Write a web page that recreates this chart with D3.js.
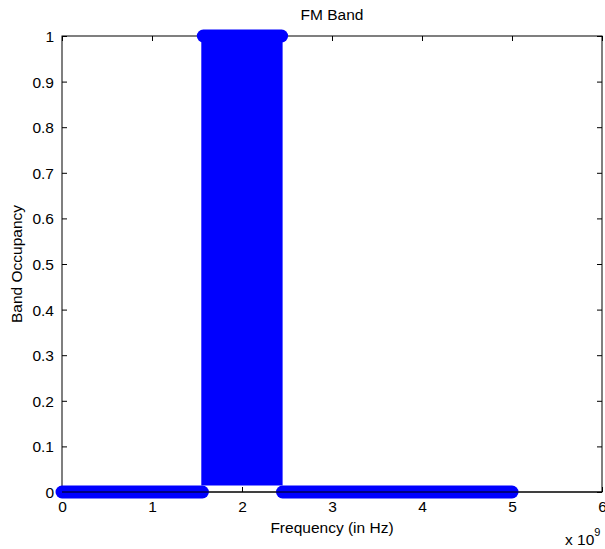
<!DOCTYPE html>
<html><head><meta charset="utf-8">
<script src="https://cdn.jsdelivr.net/npm/d3@7"></script>
<style>body{margin:0;background:#fff}svg text{font-family:"Liberation Sans",Arial,sans-serif;fill:#000}</style>
</head><body><svg id="c" width="605" height="549"></svg>
<script>
const segStart = [0, 1.57e9, 2.45e9];
const segEnd   = [1.56e9, 2.44e9, 5.0e9];
const segValue = [0, 1, 0];
const xTicks = [0, 1, 2, 3, 4, 5, 6];            // x 10^9
const yTicks = [0, 0.1, 0.2, 0.3, 0.4, 0.5, 0.6, 0.7, 0.8, 0.9, 1];
const titleText = "FM Band", xLabel = "Frequency (in Hz)", yLabel = "Band Occupancy";

const svg = d3.select("#c");
const L = 62, R = 602, T = 36, B = 492;
const x = d3.scaleLinear().domain([0, 6e9]).range([L, R]);
const y = d3.scaleLinear().domain([0, 1]).range([B, T]);
const blue = "#0000ff", mr = 6.5, fs = "15.5px";

// axes box
svg.append("rect").attr("x", L).attr("y", T).attr("width", R - L).attr("height", B - T)
  .attr("fill", "none").attr("stroke", "#000").attr("stroke-width", 1);

const tl = 5;
const gx = svg.append("g").attr("transform", `translate(0,${B})`)
  .call(d3.axisBottom(x).tickValues(xTicks.map(d => d * 1e9)).tickSizeInner(-tl).tickSizeOuter(0).tickPadding(9).tickFormat((d, i) => xTicks[i]));
const gxt = svg.append("g").attr("transform", `translate(0,${T})`)
  .call(d3.axisTop(x).tickValues(xTicks.map(d => d * 1e9)).tickSizeInner(-tl).tickSizeOuter(0).tickFormat(""));
const gy = svg.append("g").attr("transform", `translate(${L},0)`)
  .call(d3.axisLeft(y).tickValues(yTicks).tickSizeInner(-tl).tickSizeOuter(0).tickPadding(8).tickFormat(d3.format("~g")));
const gyr = svg.append("g").attr("transform", `translate(${R},0)`)
  .call(d3.axisRight(y).tickValues(yTicks).tickSizeInner(-tl).tickSizeOuter(0).tickFormat(""));
[gx, gxt, gy, gyr].forEach(g => {
  g.select(".domain").remove();
  g.selectAll("line").attr("stroke", "#000");
  g.selectAll("text").style("font-size", fs).attr("font-family", "Liberation Sans, Arial, sans-serif");
});
gy.selectAll("text").attr("dy", "0.35em");
gx.selectAll("text").attr("dy", "0.71em");

// stems (dense) : filled region for non-zero runs
const segs = segStart.map((s, i) => ({ s, e: segEnd[i], v: segValue[i] }));
svg.append("g").selectAll("rect").data(segs.filter(d => d.v !== 0)).join("rect")
  .attr("x", d => x(d.s) - 2).attr("width", d => x(d.e) - x(d.s) + 3)
  .attr("y", d => y(d.v)).attr("height", d => y(0) - mr - y(d.v))
  .attr("fill", blue);

// markers (dense circles) drawn as round-capped thick runs
svg.append("g").selectAll("line").data(segs).join("line")
  .attr("x1", d => x(d.s)).attr("x2", d => x(d.e))
  .attr("y1", d => y(d.v)).attr("y2", d => y(d.v))
  .attr("stroke", blue).attr("stroke-width", mr * 2).attr("stroke-linecap", "round");

// baseline
svg.append("line").attr("x1", L).attr("x2", R).attr("y1", y(0)).attr("y2", y(0))
  .attr("stroke", "#000").attr("stroke-width", 1);

// labels
svg.append("text").attr("x", (L + R) / 2).attr("y", 20).attr("text-anchor", "middle")
  .style("font-size", fs).text(titleText);
svg.append("text").attr("x", (L + R) / 2).attr("y", 533).attr("text-anchor", "middle")
  .style("font-size", fs).text(xLabel);
svg.append("text").attr("transform", `translate(22,${(T + B) / 2}) rotate(-90)`).attr("text-anchor", "middle")
  .style("font-size", fs).text(yLabel);
const ex = svg.append("text").attr("x", 565).attr("y", 545).style("font-size", fs);
ex.append("tspan").text("x 10");
ex.append("tspan").attr("dy", -9).style("font-size", "11px").text("9");
</script></body></html>
